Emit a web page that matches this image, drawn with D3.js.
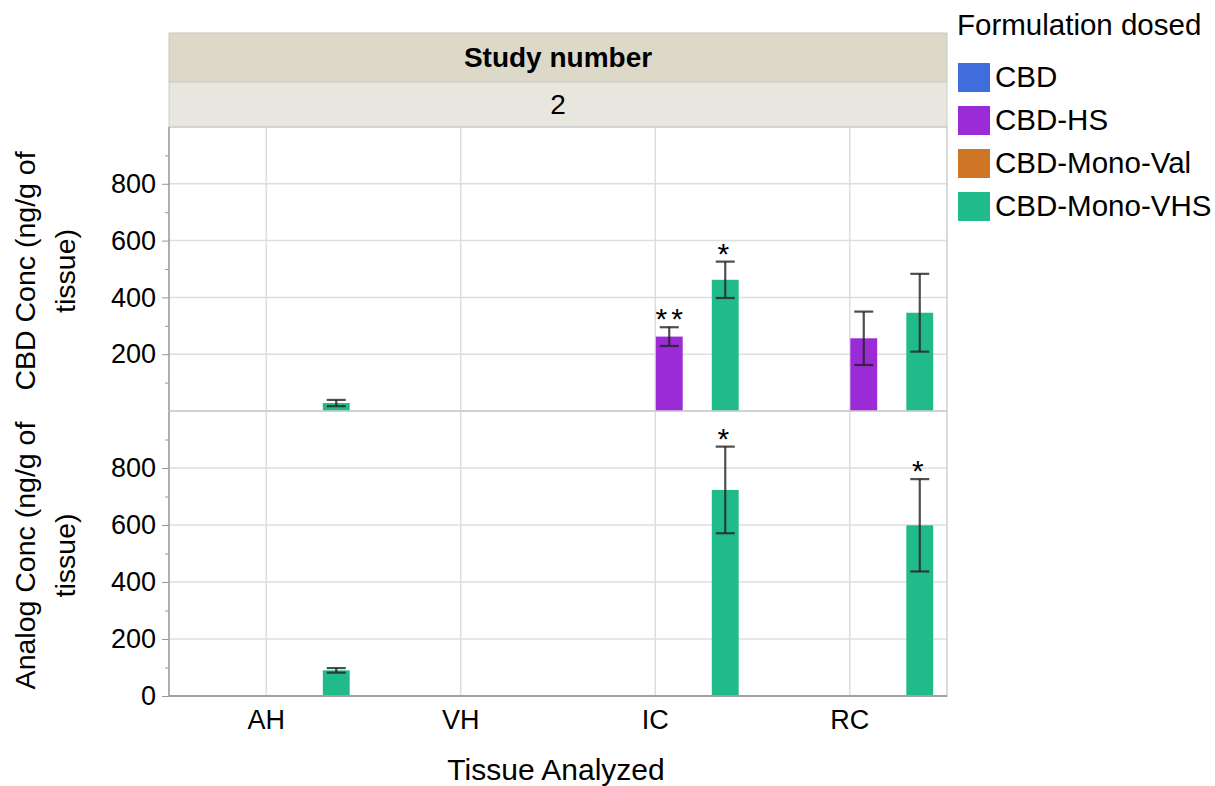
<!DOCTYPE html>
<html>
<head>
<meta charset="utf-8">
<script src="https://cdn.jsdelivr.net/npm/d3@7"></script>
<style>
  body { margin: 0; background: #fff; }
  svg { font-family: "Liberation Sans", Arial, sans-serif; }
</style>
</head>
<body>
<div id="chart"></div>
<script>
// data
var tissues = ["AH", "VH", "IC", "RC"];
var formulations = ["CBD", "CBD-HS", "CBD-Mono-Val", "CBD-Mono-VHS"];
var colors = ["#3F6EDC", "#9B2BD6", "#CF7626", "#21BB8B"];

// CBD conc (top panel): tissue, formulation, mean, error
var cbdTissue = ["AH", "IC", "IC", "RC", "RC"];
var cbdForm = ["CBD-Mono-VHS", "CBD-HS", "CBD-Mono-VHS", "CBD-HS", "CBD-Mono-VHS"];
var cbdMean = [28, 262, 462, 256, 346];
var cbdErr = [11, 33, 64, 94, 137];
var cbdStars = ["", "**", "*", "", ""];

// Analog conc (bottom panel)
var anaTissue = ["AH", "IC", "RC"];
var anaForm = ["CBD-Mono-VHS", "CBD-Mono-VHS", "CBD-Mono-VHS"];
var anaMean = [90, 723, 599];
var anaErr = [8, 152, 162];
var anaStars = ["", "*", "*"];

var majorTicksTop = [200, 400, 600, 800];
var majorTicksBot = [0, 200, 400, 600, 800];
var minorTicks = [100, 300, 500, 700, 900];

var width = 1215, height = 786;
var left = 169, right = 947;
var headTop = 33, headMid = 82, pTop = 127, pMid = 411, pBot = 696;

var svg = d3.select("#chart").append("svg")
    .attr("width", width)
    .attr("height", height);

var x = d3.scaleBand().domain(tissues).range([left, right]);
var slot = 28; // sub-bar step inside one tissue band
var x1 = d3.scaleBand().domain(formulations)
    .range([x.bandwidth() / 2 - slot, x.bandwidth() / 2 + 3 * slot])
    .paddingInner(0.04).paddingOuter(0.02);
var color = d3.scaleOrdinal().domain(formulations).range(colors);

var yTop = d3.scaleLinear().domain([0, 1000]).range([pMid, pTop]);
var yBot = d3.scaleLinear().domain([0, 1000]).range([pBot, pMid]);

function rows(t, f, m, e, s) {
    return t.map(function (d, i) {
        return {tissue: d, form: f[i], mean: m[i], err: e[i], star: s[i]};
    });
}

// header strips
svg.append("rect").attr("x", left).attr("y", headTop).attr("width", right - left).attr("height", headMid - headTop)
    .attr("fill", "#DCD9C9").attr("stroke", "#C9C7BC");
svg.append("rect").attr("x", left).attr("y", headMid).attr("width", right - left).attr("height", pTop - headMid)
    .attr("fill", "#E8E7DF").attr("stroke", "#CFCEC6");
svg.append("text").attr("x", (left + right) / 2).attr("y", 67).attr("text-anchor", "middle")
    .attr("font-size", 28).attr("font-weight", "bold").text("Study number");
svg.append("text").attr("x", (left + right) / 2).attr("y", 114).attr("text-anchor", "middle")
    .attr("font-size", 28).text("2");

function drawPanel(y, data, ticks, title) {
    var g = svg.append("g");
    var y0 = y.range()[0], y1 = y.range()[1];

    // grid
    g.selectAll(".hg").data([200, 400, 600, 800]).enter().append("line")
        .attr("x1", left).attr("x2", right)
        .attr("y1", function (d) { return y(d); }).attr("y2", function (d) { return y(d); })
        .attr("stroke", "#DEDEDE").attr("stroke-width", 1.5);
    g.selectAll(".vg").data(tissues).enter().append("line")
        .attr("x1", function (d) { return x(d) + x.bandwidth() / 2; })
        .attr("x2", function (d) { return x(d) + x.bandwidth() / 2; })
        .attr("y1", y0).attr("y2", y1)
        .attr("stroke", "#DEDEDE").attr("stroke-width", 1.5);

    // panel frame
    g.append("rect").attr("x", left).attr("y", y1).attr("width", right - left).attr("height", y0 - y1)
        .attr("fill", "none").attr("stroke", "#CFCFCF").attr("stroke-width", 1.5);

    // bars
    g.selectAll(".bar").data(data).enter().append("rect")
        .attr("x", function (d) { return x(d.tissue) + x1(d.form); })
        .attr("width", x1.bandwidth())
        .attr("y", function (d) { return y(d.mean); })
        .attr("height", function (d) { return y(0) - y(d.mean); })
        .attr("fill", function (d) { return color(d.form); });

    // error bars
    var eb = g.selectAll(".eb").data(data).enter().append("g")
        .attr("stroke", "#222").attr("stroke-opacity", 0.8).attr("stroke-width", 2.2);
    function cx(d) { return x(d.tissue) + x1(d.form) + x1.bandwidth() / 2; }
    eb.append("line")
        .attr("x1", cx).attr("x2", cx)
        .attr("y1", function (d) { return y(d.mean + d.err); })
        .attr("y2", function (d) { return y(d.mean - d.err); });
    [1, -1].forEach(function (s) {
        eb.append("line")
            .attr("x1", function (d) { return cx(d) - 9.5; })
            .attr("x2", function (d) { return cx(d) + 9.5; })
            .attr("y1", function (d) { return y(d.mean + s * d.err); })
            .attr("y2", function (d) { return y(d.mean + s * d.err); });
    });

    // significance stars
    g.selectAll(".star").data(data.filter(function (d) { return d.star; })).enter().append("text")
        .attr("x", function (d) { return cx(d) + (d.star.length > 1 ? 2 : 0); })
        .attr("y", function (d) { return y(d.mean + d.err) + 2; })
        .attr("text-anchor", "middle")
        .attr("font-size", 30)
        .attr("letter-spacing", 4)
        .text(function (d) { return d.star; });

    // y axis
    var ax = g.append("g").attr("transform", "translate(" + left + ",0)")
        .call(d3.axisLeft(y).tickValues(ticks).tickSize(7).tickPadding(6));
    ax.select(".domain").remove();
    ax.selectAll(".tick line").attr("stroke", "#999");
    ax.selectAll("text").attr("font-size", 27).attr("fill", "#000").attr("font-family", "Liberation Sans, Arial");
    var mx = g.append("g").attr("transform", "translate(" + left + ",0)")
        .call(d3.axisLeft(y).tickValues(minorTicks).tickSize(4).tickFormat(""));
    mx.select(".domain").remove();
    mx.selectAll(".tick line").attr("stroke", "#999");
    g.append("line").attr("x1", left).attr("x2", left).attr("y1", y0).attr("y2", y1)
        .attr("stroke", "#A0A0A0").attr("stroke-width", 1.5);

    // y title
    var t = g.append("text")
        .attr("transform", "translate(35," + ((y0 + y1) / 2 + 2) + ") rotate(-90)")
        .attr("text-anchor", "middle").attr("font-size", 28.5);
    t.append("tspan").attr("x", 0).attr("y", 0).text(title[0]);
    t.append("tspan").attr("x", 0).attr("y", 40).text(title[1]);
}

drawPanel(yTop, rows(cbdTissue, cbdForm, cbdMean, cbdErr, cbdStars), majorTicksTop, ["CBD Conc (ng/g of", "tissue)"]);
drawPanel(yBot, rows(anaTissue, anaForm, anaMean, anaErr, anaStars), majorTicksBot, ["Analog Conc (ng/g of", "tissue)"]);

// bottom axis line
svg.append("line").attr("x1", left).attr("x2", right).attr("y1", pBot).attr("y2", pBot)
    .attr("stroke", "#A0A0A0").attr("stroke-width", 2);

// x axis labels
svg.selectAll(".xl").data(tissues).enter().append("text")
    .attr("x", function (d) { return x(d) + x.bandwidth() / 2; })
    .attr("y", 729)
    .attr("text-anchor", "middle")
    .attr("font-size", 27)
    .text(function (d) { return d; });
svg.append("text").attr("x", 556).attr("y", 780).attr("text-anchor", "middle")
    .attr("font-size", 30).text("Tissue Analyzed");

// legend
var lg = svg.append("g").attr("transform", "translate(957,0)");
lg.append("text").attr("x", 0).attr("y", 35).attr("font-size", 29.5).text("Formulation dosed");
var li = lg.selectAll(".li").data(formulations).enter().append("g")
    .attr("transform", function (d, i) { return "translate(1," + (63 + i * 43) + ")"; });
li.append("rect").attr("width", 32).attr("height", 29).attr("fill", function (d) { return color(d); });
li.append("text").attr("x", 37).attr("y", 24).attr("font-size", 29.5).text(function (d) { return d; });
</script>
</body>
</html>
